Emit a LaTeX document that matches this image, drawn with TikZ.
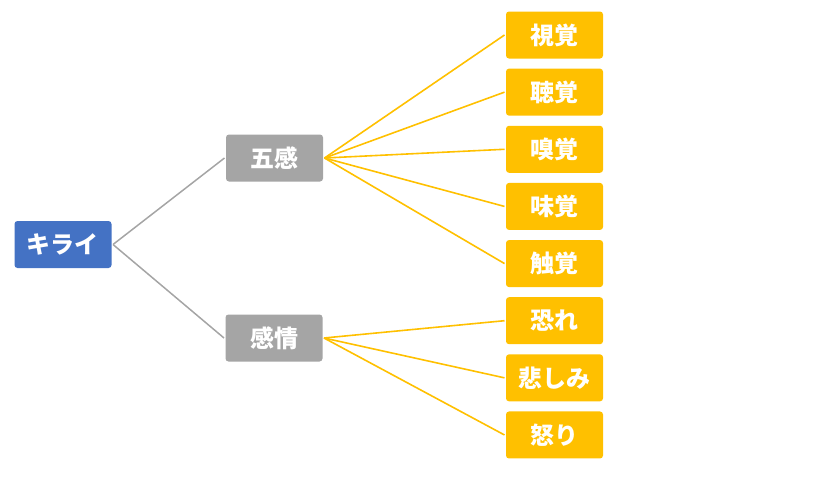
\documentclass[tikz,border=0pt]{standalone}
\usepackage{fontspec}
\newfontfamily\jp{Noto Sans CJK JP}

\definecolor{kblue}{HTML}{4472C4}
\definecolor{kgray}{HTML}{A5A5A5}
\definecolor{korange}{HTML}{FFC000}

\tikzset{
	box/.style={rounded corners=3pt, minimum width=97pt, minimum height=47pt, inner sep=0pt, outer sep=1.5pt, text=white, font=\jp\bfseries\fontsize{24}{24}\selectfont},
	top/.style={box, fill=kblue},
	mid/.style={box, fill=kgray},
	leaf/.style={box, fill=korange},
	gline/.style={draw=kgray, line width=1.5pt},
	oline/.style={draw=korange, line width=1.6pt}
}

\begin{document}
\begin{tikzpicture}[x=1pt,y=-1pt]
\useasboundingbox (0,0) rectangle (830,480);
\node[top] (kirai) at (63,244.5) {キライ};
\node[mid] (goka) at (274.5,158) {五感};
\node[mid] (kanjo) at (274,338) {感情};
\foreach \t [count=\i] in {視覚,聴覚,嗅覚,味覚,触覚,恐れ,悲しみ,怒り} {
	\node[leaf] (l\i) at (554.5,35+57.14*\i-57.14) {\t};
}
\draw[gline] (kirai.east) -- (goka.west);
\draw[gline] (kirai.east) -- (kanjo.west);
\foreach \i in {1,...,5} {
	\draw[oline] (goka.east) -- (l\i.west);
}
\foreach \i in {6,...,8} {
	\draw[oline] (kanjo.east) -- (l\i.west);
}
\end{tikzpicture}
\end{document}
